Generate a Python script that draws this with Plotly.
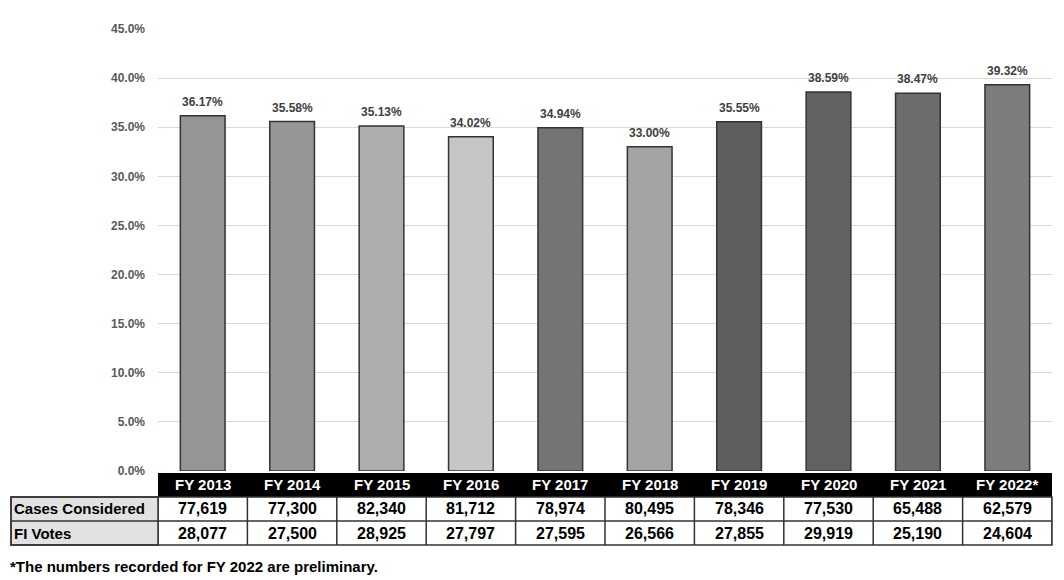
import plotly.graph_objects as go

years = ["FY 2013", "FY 2014", "FY 2015", "FY 2016", "FY 2017",
         "FY 2018", "FY 2019", "FY 2020", "FY 2021", "FY 2022*"]
fi_rate = [36.17, 35.58, 35.13, 34.02, 34.94, 33.00, 35.55, 38.59, 38.47, 39.32]
cases_considered = ["77,619", "77,300", "82,340", "81,712", "78,974",
                    "80,495", "78,346", "77,530", "65,488", "62,579"]
fi_votes = ["28,077", "27,500", "28,925", "27,797", "27,595",
            "26,566", "27,855", "29,919", "25,190", "24,604"]
row_labels = ["Cases Considered", "FI Votes"]
bar_colors = ["#959595", "#969696", "#adadad", "#c6c6c6", "#747474",
              "#a3a3a3", "#5f5f5f", "#626262", "#6d6d6d", "#7c7c7c"]
footnote = "*The numbers recorded for FY 2022 are preliminary."

FONT = "Liberation Sans"
OFF = 8  # page body margin
W, H = 1064 - OFF, 580 - OFF
L, R, T, B = 158 - OFF, 12, 29 - OFF, 580 - 471
ph = H - T - B
pw = W - L - R

def py(pix):
    return (580 - B - pix) / ph

def px(pix):
    return (pix - 158) / pw

fig = go.Figure()
fig.add_trace(go.Bar(
    x=years, y=fi_rate, width=0.5,
    marker=dict(color=bar_colors, line=dict(color="#333333", width=1.5)),
    hoverinfo="x+y",
))

ann = []
for yr, v in zip(years, fi_rate):
    ann.append(dict(x=yr, y=v, xref="x", yref="y", text=f"<b>{v:.2f}%</b>",
                    showarrow=False, yanchor="bottom", yshift=5,
                    font=dict(family=FONT, size=12, color="#404040")))

shapes = []
y_hdr_top, y_hdr_bot, y_r1_bot, y_r2_bot = py(473), py(497), py(521), py(545)
x_lab = px(11)
LC = "#333333"
shapes.append(dict(type="rect", xref="x", yref="paper", x0=-0.5, x1=9.5,
                   y0=y_hdr_bot, y1=y_hdr_top, fillcolor="black",
                   line=dict(width=0), layer="above"))
shapes.append(dict(type="rect", xref="paper", yref="paper", x0=x_lab, x1=0,
                   y0=y_r2_bot, y1=y_hdr_bot, fillcolor="#e2e2e2",
                   line=dict(color=LC, width=1.5)))
shapes.append(dict(type="rect", xref="paper", yref="paper", x0=x_lab, x1=1,
                   y0=y_r2_bot, y1=y_hdr_bot, fillcolor="rgba(0,0,0,0)",
                   line=dict(color=LC, width=1.5)))
shapes.append(dict(type="line", xref="paper", yref="paper", x0=x_lab, x1=1,
                   y0=y_r1_bot, y1=y_r1_bot, line=dict(color=LC, width=1.5)))
for i in range(len(years) + 1):
    shapes.append(dict(type="line", xref="x", yref="paper", x0=i - 0.5, x1=i - 0.5,
                       y0=y_r2_bot, y1=y_hdr_bot, line=dict(color=LC, width=1.5)))

tfont = dict(family=FONT, size=16, color="black")
for i, yr in enumerate(years):
    ann.append(dict(x=yr, y=(y_hdr_top + y_hdr_bot) / 2, xref="x", yref="paper",
                    text=f"<b>{yr}</b>", showarrow=False, yanchor="middle",
                    font=dict(family=FONT, size=15, color="white")))
    ann.append(dict(x=yr, y=(y_hdr_bot + y_r1_bot) / 2, xref="x", yref="paper",
                    text=f"<b>{cases_considered[i]}</b>", showarrow=False,
                    yanchor="middle", font=tfont))
    ann.append(dict(x=yr, y=(y_r1_bot + y_r2_bot) / 2, xref="x", yref="paper",
                    text=f"<b>{fi_votes[i]}</b>", showarrow=False,
                    yanchor="middle", font=tfont))
for lab, (a, b) in zip(row_labels, [(y_hdr_bot, y_r1_bot), (y_r1_bot, y_r2_bot)]):
    ann.append(dict(x=x_lab, y=(a + b) / 2, xref="paper", yref="paper",
                    text=f"<b>{lab}</b>", showarrow=False, xanchor="left",
                    xshift=1, yanchor="middle",
                    font=dict(family=FONT, size=15, color="black")))
ann.append(dict(x=px(8), y=py(566), xref="paper", yref="paper",
                text=f"<b>{footnote}</b>", showarrow=False, xanchor="left",
                yanchor="middle", font=dict(family=FONT, size=15, color="black")))

fig.update_layout(
    width=W, height=H,
    margin=dict(l=L, r=R, t=T, b=B, autoexpand=False),
    paper_bgcolor="white", plot_bgcolor="white",
    showlegend=False,
    annotations=ann, shapes=shapes,
    xaxis=dict(range=[-0.5, 9.5], showticklabels=False, showgrid=False,
               zeroline=False, showline=False, ticks=""),
    yaxis=dict(range=[0, 45], dtick=5, tickformat=".1f", ticksuffix="%",
               showgrid=True, gridcolor="#d9d9d9", gridwidth=1,
               zeroline=False, showline=False, ticks="", ticklen=0,
               ticklabelstandoff=12,
               tickfont=dict(family=FONT, size=12, color="#595959", weight="bold")),
    bargap=0.5,
)
fig.write_html("out.html")
